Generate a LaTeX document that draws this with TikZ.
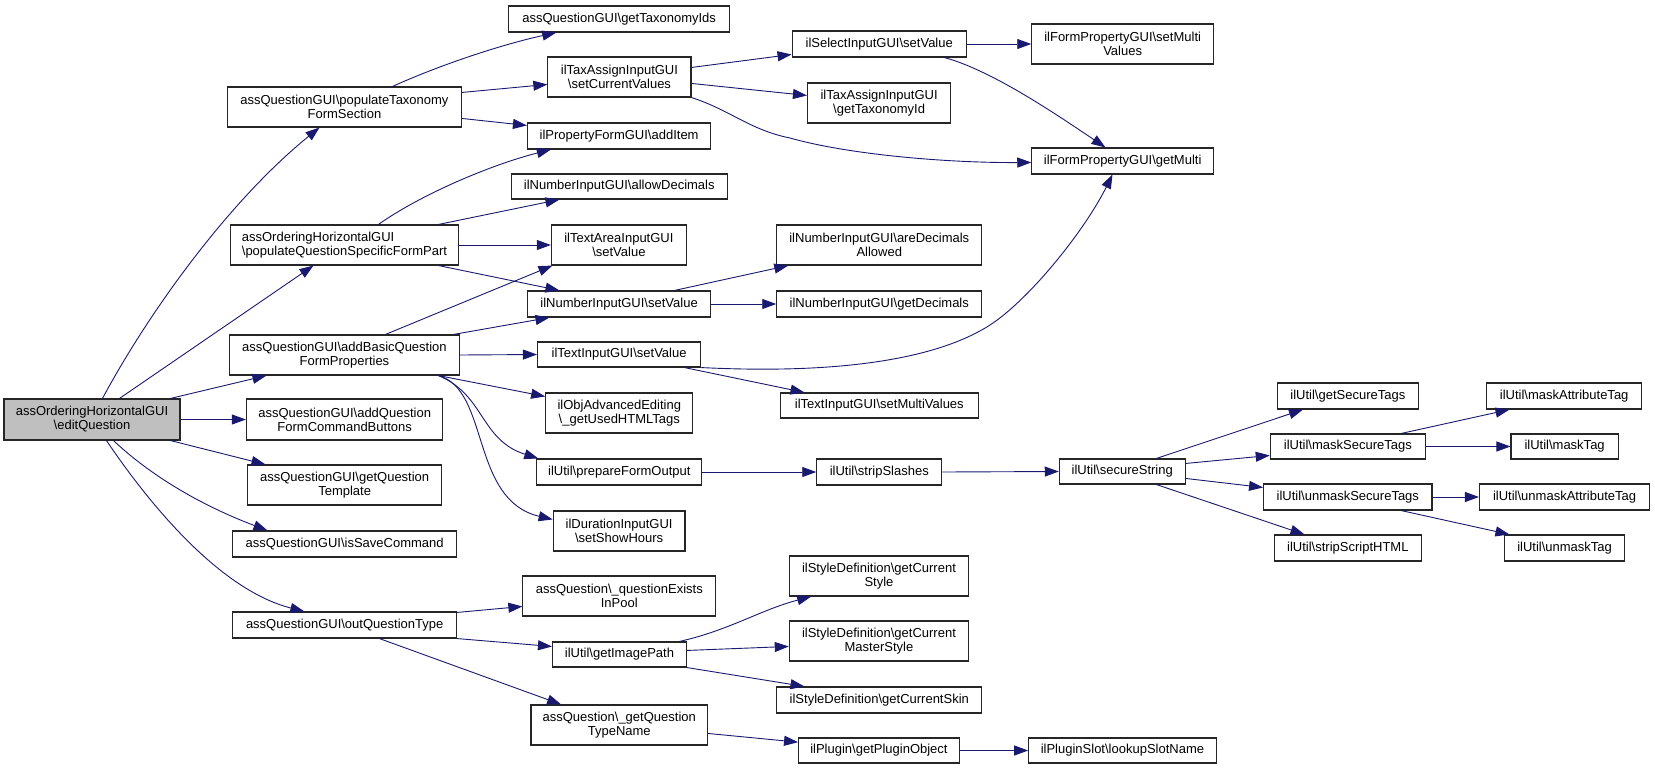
\documentclass[tikz,border=0pt]{standalone}
\usepackage{fontspec}
\setmainfont{Liberation Sans}
\usetikzlibrary{arrows.meta,calc}
\definecolor{navy}{HTML}{191970}
\definecolor{rootgray}{HTML}{BFBFBF}
\newcommand\bsl{\textbackslash}
\newcommand\mkbox[7][]{%
  \pgfmathsetmacro\mkw{#5-#3}%
  \pgfmathsetmacro\mkh{#6-#4}%
  \pgfmathsetmacro\mkx{(#3+#5)/2}%
  \pgfmathsetmacro\mky{(#4+#6)/2}%
  \node[box,#1,minimum width=\mkw pt,minimum height=\mkh pt] (#2) at (\mkx,\mky) {#7};%
}
\begin{document}
\begin{tikzpicture}[x=1pt,y=-1pt,
  box/.style={draw=black!85,fill=white,line width=1.1pt,inner sep=0pt,align=center,
    font=\fontsize{13}{14}\selectfont},
  root/.style={fill=rootgray},
  lnk/.style={draw=navy,line width=0.9pt,-{Triangle[length=14pt,width=10pt]}}]
\useasboundingbox (0,0) rectangle (1655,769);
\fill[white] (0,0) rectangle (1655,769);
% nodes
\mkbox[root]{E}{4}{399}{180}{440}{assOrderingHorizontalGUI\\\bsl editQuestion}
\mkbox{PT}{227.5}{87}{461.4}{127}{assQuestionGUI\bsl populateTaxonomy\\FormSection}
\mkbox[align=left]{PQ}{230.4}{225}{458.6}{265}{assOrderingHorizontalGUI\\\bsl populateQuestionSpecificFormPart}
\mkbox{AB}{229.6}{335}{459.3}{375}{assQuestionGUI\bsl addBasicQuestion\\FormProperties}
\mkbox{CB}{246.4}{399}{442.9}{440}{assQuestionGUI\bsl addQuestion\\FormCommandButtons}
\mkbox{QTm}{247.5}{465}{441.8}{505}{assQuestionGUI\bsl getQuestion\\Template}
\mkbox{IS}{232.9}{531}{456.4}{557}{assQuestionGUI\bsl isSaveCommand}
\mkbox{OQ}{232.9}{612}{456.4}{638}{assQuestionGUI\bsl outQuestionType}
\mkbox{GT}{508.9}{6}{729.3}{32}{assQuestionGUI\bsl getTaxonomyIds}
\mkbox{CV}{547.9}{57}{691}{97}{ilTaxAssignInputGUI\\\bsl setCurrentValues}
\mkbox{AI}{527.5}{123}{710.7}{149}{ilPropertyFormGUI\bsl addItem}
\mkbox{AD}{511.4}{174}{727.1}{199}{ilNumberInputGUI\bsl allowDecimals}
\mkbox{TA}{551.4}{225}{686.4}{265}{ilTextAreaInputGUI\\\bsl setValue}
\mkbox{NV}{527.5}{291}{710.7}{317}{ilNumberInputGUI\bsl setValue}
\mkbox{TV}{537.5}{342}{700.7}{367}{ilTextInputGUI\bsl setValue}
\mkbox{OA}{545.7}{393}{692.9}{433}{ilObjAdvancedEditing\\\bsl\_getUsedHTMLTags}
\mkbox{PF}{536.8}{459}{701.8}{485}{ilUtil\bsl prepareFormOutput}
\mkbox{DI}{553.2}{511}{685}{551}{ilDurationInputGUI\\\bsl setShowHours}
\mkbox{QE}{522.9}{576}{715.7}{616}{assQuestion\bsl\_questionExists\\InPool}
\mkbox{GI}{552.5}{642}{686.4}{667}{ilUtil\bsl getImagePath}
\mkbox{QN}{531}{705}{707.5}{745}{assQuestion\bsl\_getQuestion\\TypeName}
\mkbox{SV}{792.1}{31}{966.4}{57}{ilSelectInputGUI\bsl setValue}
\mkbox{TI}{807.5}{83}{950.7}{123}{ilTaxAssignInputGUI\\\bsl getTaxonomyId}
\mkbox{DA}{776.8}{225}{981.8}{265}{ilNumberInputGUI\bsl areDecimals\\Allowed}
\mkbox{GD}{776.8}{291}{981.8}{317}{ilNumberInputGUI\bsl getDecimals}
\mkbox{MV}{780.4}{393}{978.2}{418}{ilTextInputGUI\bsl setMultiValues}
\mkbox{SS}{816.8}{459}{941.8}{485}{ilUtil\bsl stripSlashes}
\mkbox{CS}{789.3}{556}{968.6}{596}{ilStyleDefinition\bsl getCurrent\\Style}
\mkbox{CM}{789.3}{621}{968.6}{661}{ilStyleDefinition\bsl getCurrent\\MasterStyle}
\mkbox{CK}{776.8}{687}{981.8}{713}{ilStyleDefinition\bsl getCurrentSkin}
\mkbox{PO}{798.6}{738}{959.3}{763}{ilPlugin\bsl getPluginObject}
\mkbox{FM}{1031.8}{24}{1213.5}{64}{ilFormPropertyGUI\bsl setMulti\\Values}
\mkbox{GM}{1031.8}{148}{1213.5}{174}{ilFormPropertyGUI\bsl getMulti}
\mkbox{ST}{1059.3}{459}{1185.2}{484}{ilUtil\bsl secureString}
\mkbox{GS}{1277.4}{383}{1418.3}{409}{ilUtil\bsl getSecureTags}
\mkbox{MS}{1270.3}{434}{1425.4}{459}{ilUtil\bsl maskSecureTags}
\mkbox{US}{1263.6}{484}{1432}{510}{ilUtil\bsl unmaskSecureTags}
\mkbox{SH}{1274.3}{535}{1421.4}{561}{ilUtil\bsl stripScriptHTML}
\mkbox{MA}{1486.6}{383}{1641.7}{409}{ilUtil\bsl maskAttributeTag}
\mkbox{MT}{1511}{434}{1618.2}{459}{ilUtil\bsl maskTag}
\mkbox{UA}{1479.5}{484}{1649.7}{510}{ilUtil\bsl unmaskAttributeTag}
\mkbox{UT}{1504.3}{535}{1624.9}{561}{ilUtil\bsl unmaskTag}
\mkbox{LS}{1028.7}{738}{1216.2}{763}{ilPluginSlot\bsl lookupSlotName}
% edges
\draw[lnk] ($(E.north west)+(99,0)$) .. controls (150,310) and (230,200) .. ($(PT.south west)+(92.5,0)$);
\draw[lnk] ($(E.north west)+(116,0)$) -- ($(PQ.south west)+(83.6,0)$);
\draw[lnk] ($(E.north west)+(167,0)$) -- ($(AB.south west)+(37.4,0)$);
\draw[lnk] (E.east) -- (CB.west);
\draw[lnk] ($(E.south west)+(167,0)$) -- ($(QTm.north west)+(18.5,0)$);
\draw[lnk] ($(E.south west)+(110,0)$) .. controls (150,475) and (200,505) .. ($(IS.north west)+(35.1,0)$);
\draw[lnk] ($(E.south west)+(103,0)$) .. controls (150,505) and (220,590) .. ($(OQ.north west)+(72,0)$);
\draw[lnk] ($(PT.north west)+(165.5,0)$) .. controls (440,65) and (500,45) .. ($(GT.south west)+(47.9,0)$);
\draw[lnk] ($(PT.north east)+(0,6)$) -- ($(CV.north west)+(0,28)$);
\draw[lnk] ($(PT.north east)+(0,32)$) -- ($(AI.north west)+(0,3)$);
\draw[lnk] ($(PQ.north west)+(148.6,0)$) .. controls (420,195) and (490,165) .. ($(AI.south west)+(23.9,0)$);
\draw[lnk] ($(PQ.north west)+(208.6,0)$) -- ($(AD.south west)+(48.6,0)$);
\draw[lnk] (PQ.east) -- (TA.west);
\draw[lnk] ($(PQ.south west)+(208.6,0)$) -- ($(NV.north west)+(32.5,0)$);
\draw[lnk] ($(AB.north west)+(156.4,0)$) -- ($(TA.south west)+(1.6,0)$);
\draw[lnk] ($(AB.north west)+(224.4,0)$) -- ($(NV.south west)+(22.5,0)$);
\draw[lnk] (AB.east) -- (TV.west);
\draw[lnk] ($(AB.south west)+(209.4,0)$) -- ($(OA.north west)+(0,4)$);
\draw[lnk] ($(AB.south west)+(209.4,0)$) .. controls (485,395) and (480,440) .. ($(PF.north west)+(2,0)$);
\draw[lnk] ($(AB.south west)+(209.4,0)$) .. controls (490,390) and (470,500) .. ($(DI.north west)+(0,9)$);
\draw[lnk] ($(CV.north east)+(0,11)$) -- ($(SV.north west)+(0,24)$);
\draw[lnk] ($(CV.north east)+(0,27)$) -- ($(TI.north west)+(0,13)$);
\draw[lnk] (CV.south east) .. controls (730,110) and (750,130) .. (790,138) .. controls (850,155) and (950,163) .. ($(GM.north west)+(0,15)$);
\draw[lnk] (SV.east) -- (FM.west);
\draw[lnk] ($(SV.south west)+(152.9,0)$) .. controls (990,70) and (1050,110) .. ($(GM.north west)+(74.2,0)$);
\draw[lnk] ($(NV.north west)+(147.5,0)$) -- ($(DA.south west)+(12,0)$);
\draw[lnk] (NV.east) -- (GD.west);
\draw[lnk] (TV.south east) .. controls (790,372) and (920,370) .. (990,325) .. controls (1030,299) and (1085,230) .. ($(GM.south west)+(81.2,0)$);
\draw[lnk] ($(TV.south west)+(147.5,0)$) -- ($(MV.north west)+(24.6,0)$);
\draw[lnk] (PF.east) -- (SS.west);
\draw[lnk] (SS.east) -- (ST.west);
\draw[lnk] ($(ST.north west)+(97.7,0)$) -- ($(GS.south west)+(26.1,0)$);
\draw[lnk] ($(ST.north east)+(0,5)$) -- ($(MS.north west)+(0,22)$);
\draw[lnk] ($(ST.north east)+(0,20)$) -- ($(US.north west)+(0,4)$);
\draw[lnk] ($(ST.south west)+(97.7,0)$) -- ($(SH.north west)+(30.7,0)$);
\draw[lnk] ($(MS.north west)+(131.4,0)$) -- ($(MA.south west)+(23.4,0)$);
\draw[lnk] (MS.east) -- (MT.west);
\draw[lnk] (US.east) -- (UA.west);
\draw[lnk] ($(US.south west)+(138.1,0)$) -- ($(UT.north west)+(5.7,0)$);
\draw[lnk] ($(OQ.north east)+(0,1)$) -- ($(QE.north west)+(0,31)$);
\draw[lnk] (OQ.south east) -- ($(GI.north west)+(0,5)$);
\draw[lnk] ($(OQ.south west)+(147.1,0)$) -- ($(QN.north west)+(30.7,0)$);
\draw[lnk] ($(GI.north west)+(127.5,0)$) .. controls (730,630) and (760,610) .. ($(CS.south west)+(22.4,0)$);
\draw[lnk] ($(GI.north east)+(0,9)$) -- ($(CM.north west)+(0,26)$);
\draw[lnk] (GI.south east) -- ($(CK.north west)+(28.2,0)$);
\draw[lnk] ($(QN.north east)+(0,29)$) -- ($(PO.north west)+(0,4.7)$);
\draw[lnk] (PO.east) -- (LS.west);
\end{tikzpicture}
\end{document}
